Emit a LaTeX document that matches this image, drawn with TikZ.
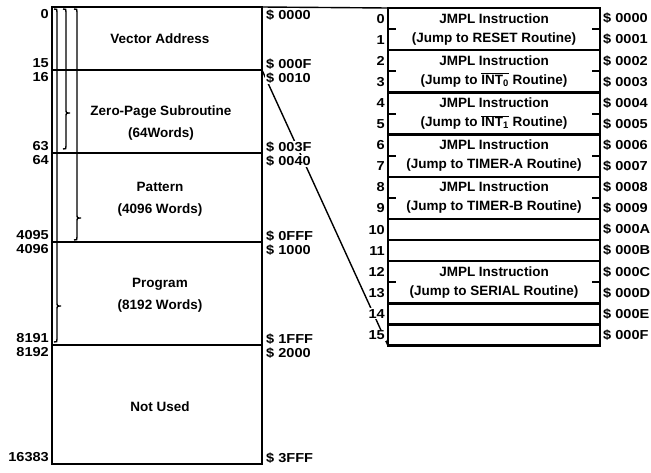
\documentclass[tikz,border=0pt]{standalone}
\usepackage{fontspec}
\setmainfont{Liberation Sans}
\newfontfamily\numfont[FakeStretch=1.12]{Liberation Sans}
\usetikzlibrary{positioning}
\tikzset{
    seg/.style  ={draw, line width=2.4pt, minimum width=210pt,
                  inner sep=0pt, outer sep=0pt},
    cell/.style ={draw, line width=2.4pt, minimum width=212pt,
                  inner sep=0pt, outer sep=0pt, anchor=north west,
                  align=center, font=\fontsize{13.5}{19}\selectfont\bfseries},
    txt/.style  ={align=center, inner sep=0pt,
                  font=\fontsize{13.5}{22}\selectfont\bfseries},
    num/.style  ={fill=white, inner sep=1pt,
                  font=\fontsize{13}{15}\selectfont\numfont\bfseries},
    brc/.style  ={line width=1.4pt},
    lnk/.style  ={line width=1.4pt},
    tick/.style ={line width=2pt}
}
\newcommand{\intbar}[1]{$\overline{\hbox{INT\textsubscript{#1}}}$}
% brace: x, top, tip, bottom
\newcommand{\wbrace}[4]{%
  \draw[brc] (#1-3,#2) .. controls (#1,#2) .. (#1,#2+3) -- (#1,#3-4)
    .. controls (#1,#3) .. (#1+4,#3) .. controls (#1,#3) .. (#1,#3+4)
    -- (#1,#4-3) .. controls (#1,#4) .. (#1-3,#4);}

\begin{document}
\begin{tikzpicture}[x=1pt, y=-1pt]
  \useasboundingbox (0,0) rectangle (651,472);

  % memory map
  \node[seg, minimum height=63pt, anchor=north west] (vec) at (52,7) {};
  \node[seg, minimum height=83pt, below=0pt of vec] (zp) {};
  \node[seg, minimum height=89pt, below=0pt of zp] (pat) {};
  \node[seg, minimum height=103pt, below=0pt of pat] (prg) {};
  \node[seg, minimum height=119pt, below=0pt of prg] (nu) {};

  \wbrace{57}{9}{306}{342}
  \wbrace{66}{9}{113}{149}
  \wbrace{77}{9}{218}{240}

  \node[txt] (vectxt) at ([shift={(3,0)}]vec.center) {Vector Address};
  \node[txt] (zptxt)  at ([shift={(4,12)}]zp.center) {Zero-Page Subroutine\\(64Words)};
  \node[txt] (pattxt) at ([shift={(3,2)}]pat.center) {Pattern\\(4096 Words)};
  \node[txt] (prgtxt) at ([shift={(3,2)}]prg.center) {Program\\(8192 Words)};
  \node[txt] (nutxt)  at ([shift={(3,2)}]nu.center) {Not Used};

  % vector table
  \foreach \r/\dest in {0/RESET, 2/{\intbar{0}}, 4/{\intbar{1}},
                        6/TIMER-A, 8/TIMER-B, 12/SERIAL}{
    \node[cell, minimum height=42.2pt] (cell\r) at (388,{8+\r*21.1})
         {JMPL Instruction\\(Jump to \dest\ Routine)};
    \draw[tick] (cell\r.west) -- ++(8,0);
    \draw[tick] (cell\r.east) -- ++(-8,0);
  }
  \foreach \r in {10,11,14,15}
    \node[cell, minimum height=21.1pt] (cell\r) at (388,{8+\r*21.1}) {};

  \draw[lnk] (vec.north east) -- (cell0.north west);
  \draw[lnk] (vec.south east) -- (cell15.south west);

  % addresses
  \foreach \sec/\first/\last/\hfirst/\hlast in {vec/0/15/0000/000F,
      zp/16/63/0010/003F, pat/64/4095/0040/0FFF,
      prg/4096/8191/1000/1FFF, nu/8192/16383/2000/3FFF}{
    \node[num, anchor=east] (\sec-a) at ([shift={(-2,7)}]\sec.north west) {\first};
    \node[num, anchor=east] (\sec-b) at ([shift={(-2,-7)}]\sec.south west) {\last};
    \node[num, anchor=west] (\sec-c) at ([shift={(3,8)}]\sec.north east) {\$ \hfirst};
    \node[num, anchor=west] (\sec-d) at ([shift={(3,-6)}]\sec.south east) {\$ \hlast};
  }
  \foreach \i/\h in {0/0,1/1,2/2,3/3,4/4,5/5,6/6,7/7,8/8,9/9,
                     10/A,11/B,12/C,13/D,14/E,15/F}{
    \node[num, anchor=east] (idx\i) at (386,{8+(\i+0.5)*21.1}) {\i};
    \node[num, anchor=west] (adr\i) at (602,{8+(\i+0.5)*21.1}) {\$ 000\h};
  }
\end{tikzpicture}
\end{document}
